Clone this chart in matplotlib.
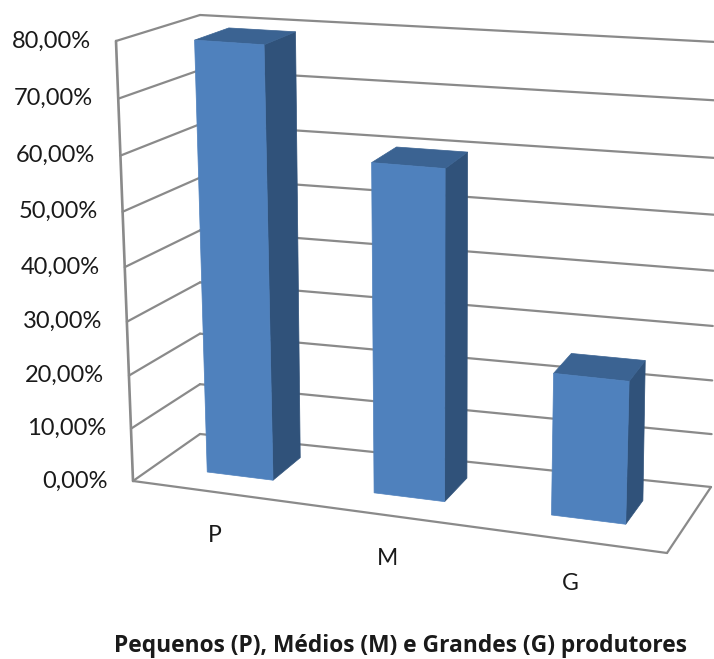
import numpy as np
import matplotlib
matplotlib.use("Agg")
import matplotlib.pyplot as plt
from matplotlib.patches import Polygon

plt.rcParams['font.family'] = ['Lato', 'DejaVu Sans']

# data
categories = ['P', 'M', 'G']
values = [79.3, 60.2, 25.9]
tick_values = [0, 10, 20, 30, 40, 50, 60, 70, 80]
tick_labels = ['0,00%', '10,00%', '20,00%', '30,00%', '40,00%', '50,00%', '60,00%', '70,00%', '80,00%']
xlabel = 'Pequenos (P), Médios (M) e Grandes (G) produtores'

# layout: pixel positions of the eight box corners (u, v, d) -> pixel
VMAX = 80.0
PERSPECTIVE = 0.056
C = {
    (0, 0, 0): (133, 481), (1, 0, 0): (667, 553),
    (0, 0, 1): (200, 434), (1, 0, 1): (711, 487),
    (0, 1, 0): (116, 41),  (1, 1, 0): (684, 83),
    (0, 1, 1): (200, 15),  (1, 1, 1): (716, 42),
}
# bars lean a little more than the walls towards the left
BAR_C = dict(C)
BAR_C[(0, 1, 0)] = (112, 41)
BAR_C[(0, 1, 1)] = (195, 15)
BAR_C[(1, 1, 0)] = (685, 83)
BAR_C[(1, 1, 1)] = (717, 42)
bar_spans = [(0.099, 0.224), (0.416, 0.550), (0.753, 0.894)]
bar_depth = [(0.33, 0.77), (0.33, 0.74), (0.33, 0.70)]
GRID = '#8a8a8a'
FRONT, SIDE, TOP = '#4F81BD', '#30527A', '#3B6392'
INK = '#1a1a1a'


def proj(u, val, d, corners=C):
    """Map normalised x, value and depth to figure pixels."""
    v = val / VMAX
    v = v - PERSPECTIVE * v * (1 - v)
    out = np.zeros(2)
    for i, wu in ((0, 1 - u), (1, u)):
        for j, wv in ((0, 1 - v), (1, v)):
            for k, wd in ((0, 1 - d), (1, d)):
                out += wu * wv * wd * np.array(corners[(i, j, k)], dtype=float)
    return tuple(out)


fig = plt.figure(figsize=(7.14, 6.59), dpi=100)
ax = fig.add_axes([0, 0, 1, 1])
ax.set_xlim(0, 714)
ax.set_ylim(659, 0)
ax.axis('off')


def line(p, q, lw=1.6):
    ax.plot([p[0], q[0]], [p[1], q[1]], color=GRID, lw=lw, solid_capstyle='round', zorder=1)


# gridlines on left and back walls
for t in tick_values:
    a, b, c = proj(0, t, 0), proj(0, t, 1), proj(1, t, 1)
    line(a, b)
    line(b, c)
# axis frame
line(proj(0, 0, 0), proj(0, VMAX, 0), lw=1.9)
line(proj(0, 0, 0), proj(1, 0, 0))
line(proj(1, 0, 0), proj(1, 0, 1))

# bars
for val, (u0, u1), (d0, d1) in zip(values, bar_spans, bar_depth):
    P = lambda u, h, d: proj(u, h, d, BAR_C)
    side = [P(u1, 0, d0), P(u1, 0, d1), P(u1, val, d1), P(u1, val, d0)]
    top = [P(u0, val, d0), P(u1, val, d0), P(u1, val, d1), P(u0, val, d1)]
    front = [P(u0, 0, d0), P(u1, 0, d0), P(u1, val, d0), P(u0, val, d0)]
    for pts, col in ((side, SIDE), (top, TOP), (front, FRONT)):
        ax.add_patch(Polygon(pts, closed=True, facecolor=col, edgecolor=col, lw=0.5, zorder=3))

# tick labels
for t, lab in zip(tick_values, tick_labels):
    x, y = proj(0, t, 0)
    ax.text(x - 25, y, lab, ha='right', va='center', fontsize=17, color=INK)

# category labels
for cat, (u0, u1) in zip(categories, bar_spans):
    u = (u0 + u1) / 2
    x, y = proj(u, 0, 0)
    ax.text(x - 5 + 3 * u, y + 43, cat, ha='center', va='center', fontsize=16.5, color=INK)

ax.text(401, 646, xlabel, ha='center', va='center', fontsize=16.4, fontweight='bold',
        family=['Open Sans', 'DejaVu Sans'], color=INK)

fig.savefig('out.png', dpi=100)
